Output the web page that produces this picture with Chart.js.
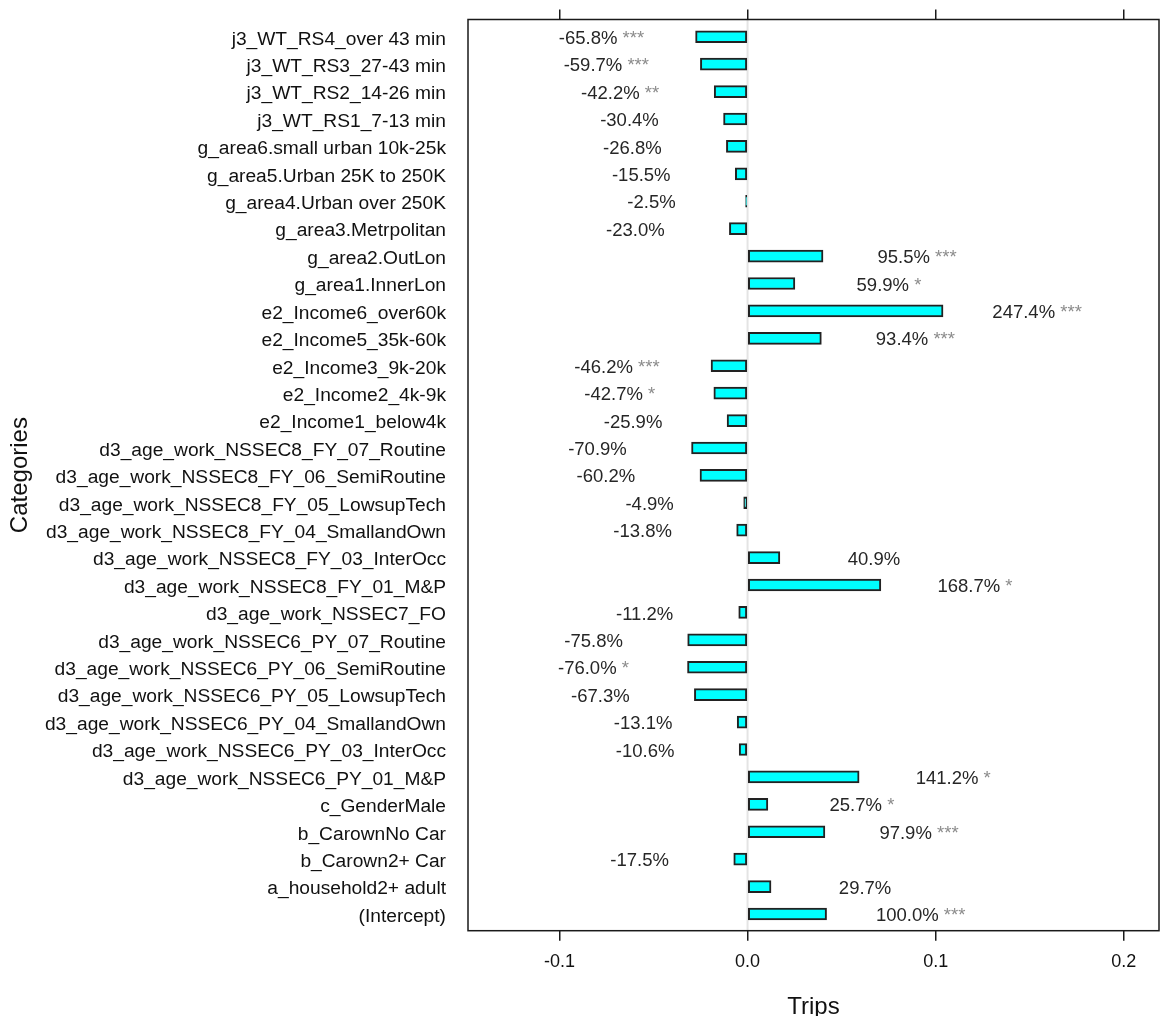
<!DOCTYPE html>
<html>
<head>
<meta charset="utf-8">
<title>Trips by category</title>
<script src="https://cdn.jsdelivr.net/npm/chart.js@4.4.1/dist/chart.umd.min.js"></script>
<style>
  html, body { margin: 0; padding: 0; background: #ffffff; }
  #wrap { position: relative; width: 1165px; height: 1016px; }
</style>
</head>
<body>
<div id="wrap"><canvas id="chart"></canvas></div>
<script>
// Model terms, top to bottom
const categories = [
  "j3_WT_RS4_over 43 min",
  "j3_WT_RS3_27-43 min",
  "j3_WT_RS2_14-26 min",
  "j3_WT_RS1_7-13 min",
  "g_area6.small urban 10k-25k",
  "g_area5.Urban 25K to 250K",
  "g_area4.Urban over 250K",
  "g_area3.Metrpolitan",
  "g_area2.OutLon",
  "g_area1.InnerLon",
  "e2_Income6_over60k",
  "e2_Income5_35k-60k",
  "e2_Income3_9k-20k",
  "e2_Income2_4k-9k",
  "e2_Income1_below4k",
  "d3_age_work_NSSEC8_FY_07_Routine",
  "d3_age_work_NSSEC8_FY_06_SemiRoutine",
  "d3_age_work_NSSEC8_FY_05_LowsupTech",
  "d3_age_work_NSSEC8_FY_04_SmallandOwn",
  "d3_age_work_NSSEC8_FY_03_InterOcc",
  "d3_age_work_NSSEC8_FY_01_M&P",
  "d3_age_work_NSSEC7_FO",
  "d3_age_work_NSSEC6_PY_07_Routine",
  "d3_age_work_NSSEC6_PY_06_SemiRoutine",
  "d3_age_work_NSSEC6_PY_05_LowsupTech",
  "d3_age_work_NSSEC6_PY_04_SmallandOwn",
  "d3_age_work_NSSEC6_PY_03_InterOcc",
  "d3_age_work_NSSEC6_PY_01_M&P",
  "c_GenderMale",
  "b_CarownNo Car",
  "b_Carown2+ Car",
  "a_household2+ adult",
  "(Intercept)"
];

// Effect of each term, as a percentage of the intercept
const percentOfIntercept = [
  -65.8, -59.7, -42.2, -30.4, -26.8, -15.5, -2.5, -23.0,
  95.5, 59.9, 247.4, 93.4, -46.2, -42.7, -25.9,
  -70.9, -60.2, -4.9, -13.8, 40.9, 168.7, -11.2,
  -75.8, -76.0, -67.3, -13.1, -10.6, 141.2,
  25.7, 97.9, -17.5, 29.7, 100.0
];

// Significance stars
const significance = [
  "***", "***", "**", "", "", "", "", "",
  "***", "*", "***", "***", "***", "*", "",
  "", "", "", "", "", "*", "",
  "", "*", "", "", "", "*",
  "*", "***", "", "", "***"
];

// Intercept in trips
const intercept = 0.042;

// X axis tick values
const xTickValues = [-0.1, 0.0, 0.1, 0.2];

// Coefficients in trips
const trips = percentOfIntercept.map(p => intercept * p / 100);

const X_MIN = -0.1486, X_MAX = 0.2187;
const LABEL_GAP = 0.05;
const FONT = '"Liberation Sans", Arial, Helvetica, sans-serif';

// Light reference line at zero, under the bars
const zeroLine = {
  id: 'zeroLine',
  beforeDatasetsDraw(chart) {
    const { ctx, chartArea: a, scales: { x } } = chart;
    const px = x.getPixelForValue(0);
    ctx.save();
    ctx.strokeStyle = '#e4e4e4';
    ctx.lineWidth = 2;
    ctx.beginPath();
    ctx.moveTo(px, a.top);
    ctx.lineTo(px, a.bottom);
    ctx.stroke();
    ctx.restore();
  }
};

// Box round the plot panel
const panelFrame = {
  id: 'panelFrame',
  afterDraw(chart) {
    const { ctx, chartArea: a } = chart;
    ctx.save();
    ctx.strokeStyle = '#1a1a1a';
    ctx.lineWidth = 1.5;
    ctx.strokeRect(a.left, a.top, a.right - a.left, a.bottom - a.top);
    ctx.restore();
  }
};

// Percentage labels with significance stars beside each bar
const valueLabels = {
  id: 'valueLabels',
  afterDatasetsDraw(chart) {
    const { ctx, scales: { x, y } } = chart;
    ctx.save();
    ctx.font = '18.5px ' + FONT;
    ctx.textBaseline = 'middle';
    ctx.textAlign = 'left';
    trips.forEach((v, i) => {
      const cx = x.getPixelForValue(v + (v < 0 ? -LABEL_GAP : LABEL_GAP));
      const main = percentOfIntercept[i].toFixed(1) + '%';
      const stars = significance[i] ? ' ' + significance[i] : '';
      const wMain = ctx.measureText(main).width;
      const wStars = stars ? ctx.measureText(stars).width : 0;
      const x0 = cx - (wMain + wStars) / 2;
      const py = y.getPixelForValue(i) + 2;
      ctx.fillStyle = '#262626';
      ctx.fillText(main, x0, py);
      if (stars) {
        ctx.fillStyle = '#8c8c8c';
        ctx.fillText(stars, x0 + wMain, py);
      }
    });
    ctx.restore();
  }
};

const setXTicks = scale => { scale.ticks = xTickValues.map(v => ({ value: v })); };
const noEdgePadding = s => { s.paddingTop = 0; s.paddingBottom = 0; s.paddingLeft = 0; s.paddingRight = 0; };

new Chart(document.getElementById('chart'), {
  type: 'bar',
  data: {
    datasets: [{
      data: trips.map((v, i) => ({ x: v, y: i })),
      backgroundColor: '#00ffff',
      borderColor: '#222222',
      borderWidth: 2,
      borderSkipped: false,
      barThickness: 12
    }]
  },
  options: {
    indexAxis: 'y',
    responsive: true,
    maintainAspectRatio: false,
    animation: false,
    layout: { padding: { top: 9.5, right: 6, bottom: 0, left: 0 } },
    plugins: { legend: { display: false }, tooltip: { enabled: false } },
    scales: {
      x: {
        type: 'linear',
        position: 'bottom',
        min: X_MIN,
        max: X_MAX,
        afterBuildTicks: setXTicks,
        afterFit: s => { s.height = 85.3; noEdgePadding(s); },
        border: { display: false },
        grid: { drawOnChartArea: false, drawTicks: true, tickLength: 10, color: '#1a1a1a', lineWidth: 1.5 },
        ticks: {
          color: '#111111',
          font: { family: FONT, size: 18 },
          padding: 11,
          maxRotation: 0,
          callback: v => Number(v).toFixed(1)
        },
        title: {
          display: true,
          text: 'Trips',
          color: '#111111',
          font: { family: FONT, size: 24, lineHeight: 1 },
          padding: { top: 0, bottom: -3 }
        }
      },
      xTop: {
        type: 'linear',
        position: 'top',
        axis: 'x',
        min: X_MIN,
        max: X_MAX,
        afterBuildTicks: setXTicks,
        afterFit: s => { s.height = 10; noEdgePadding(s); },
        border: { display: false },
        grid: { drawOnChartArea: false, drawTicks: true, tickLength: 10, color: '#1a1a1a', lineWidth: 1.5 },
        ticks: { display: false }
      },
      y: {
        type: 'linear',
        position: 'left',
        reverse: true,
        offset: false,
        min: -0.63,
        max: 32.61,
        afterBuildTicks: scale => { scale.ticks = categories.map((_, i) => ({ value: i })); },
        afterFit: s => { s.width = 468; noEdgePadding(s); },
        border: { display: false },
        grid: { display: false, offset: false },
        ticks: {
          autoSkip: false,
          color: '#111111',
          font: { family: FONT, size: 19.2 },
          padding: 14,
          labelOffset: 2.5,
          callback: v => categories[v]
        },
        title: {
          display: true,
          text: 'Categories',
          color: '#111111',
          font: { family: FONT, size: 24, lineHeight: 1 },
          padding: { top: 8, bottom: 0 }
        }
      }
    }
  },
  plugins: [zeroLine, valueLabels, panelFrame]
});
</script>
</body>
</html>
